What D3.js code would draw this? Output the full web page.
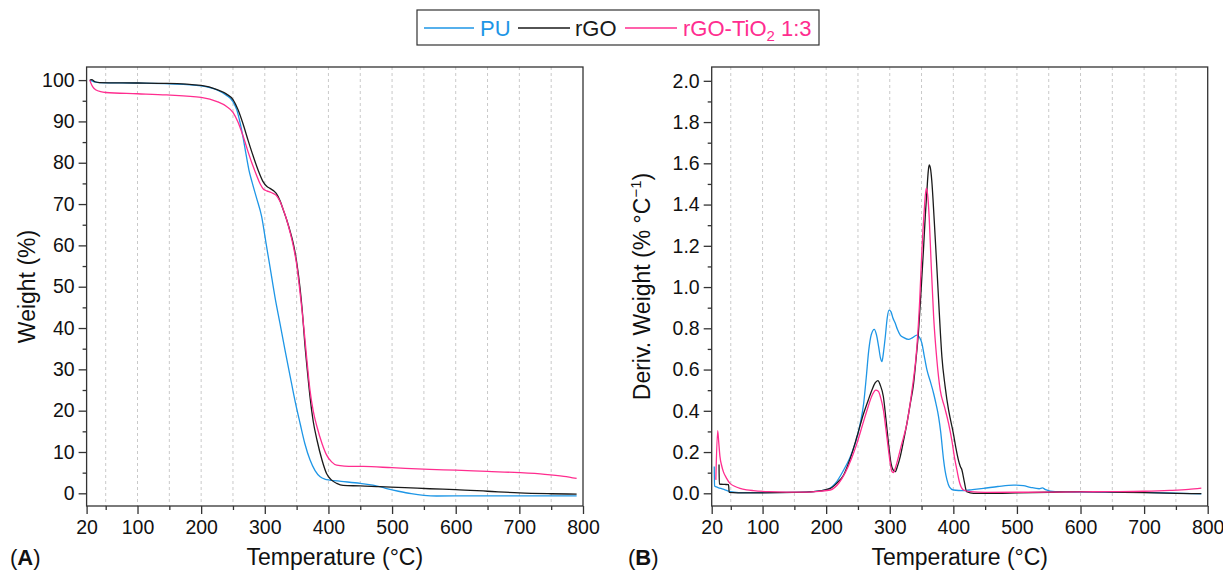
<!DOCTYPE html>
<html>
<head>
<meta charset="utf-8">
<script src="https://cdn.jsdelivr.net/npm/d3@7"></script>
<style>
  html, body { margin: 0; padding: 0; background: #fff; }
  svg { display: block; font-family: "Liberation Sans", Arial, Helvetica, sans-serif; }
</style>
</head>
<body>
<svg id="chart" width="1223" height="575"></svg>
<script>
// ---- Data: temperature (°C) vs weight (%) and derivative weight (% °C^-1) ----
const seriesNames = ["PU", "rGO", "rGO-TiO2 1:3"];
const seriesColors = ["#1e96e6", "#1a1a1a", "#ff2d8f"];

const xTicks = [20, 100, 200, 300, 400, 500, 600, 700, 800];
const xMinorTicks = [50, 150, 250, 350, 450, 550, 650, 750];
const gridTemps = [50, 100, 150, 200, 250, 300, 350, 400, 450, 500, 550, 600, 650, 700, 750];
const weightTicks = [0, 10, 20, 30, 40, 50, 60, 70, 80, 90, 100];
const weightMinorTicks = [5, 15, 25, 35, 45, 55, 65, 75, 85, 95];
const derivTicks = [0.0, 0.2, 0.4, 0.6, 0.8, 1.0, 1.2, 1.4, 1.6, 1.8, 2.0];
const derivMinorTicks = [0.1, 0.3, 0.5, 0.7, 0.9, 1.1, 1.3, 1.5, 1.7, 1.9];

// TGA curves [temperature, weight %]
const puWeight = [[25,100],[32,99.6],[40,99.4],[100,99.3],[150,99.1],[200,98.6],[225,97.6],[240,96.3],[250,94.8],[256,92.8],[261,89.8],[266,86],[270,82.5],[275,78.3],[280,75.3],[287,71.5],[295,67],[302,60.5],[308.5,54.5],[316,47.5],[324,41],[332,34.5],[340,28.2],[348,22],[355.5,16.9],[363,12],[371,8.1],[379,5.5],[387,4.0],[395,3.4],[402,3.2],[420,2.9],[450,2.4],[470,2.0],[490,1.2],[510,0.5],[530,-0.1],[550,-0.5],[570,-0.65],[650,-0.6],[790,-0.6]];
const rgoWeight = [[25,100],[28,100.1],[33,99.6],[40,99.4],[100,99.3],[146,99.2],[200,98.7],[225,97.7],[240,96.6],[250,95.3],[258,92.8],[266,89.3],[274,85.3],[282,81.5],[290,78],[297,75.5],[303,74.3],[308,73.8],[314,73.2],[318,72.6],[324,70.8],[329,68.6],[334,66.4],[340,63.3],[345,60.3],[350,56],[355.5,49.5],[359,44],[363,36],[367,29.5],[371,23.4],[376,17.5],[382,12.9],[390,8],[397,4.8],[405,3.2],[413,2.4],[423,1.9],[450,1.8],[481,1.6],[520,1.4],[559,1.1],[600,0.9],[650,0.5],[700,0.1],[750,-0.1],[790,-0.2]];
const tioWeight = [[25,100],[27,99.2],[30,98.3],[35,97.6],[42,97.2],[50,97.0],[100,96.7],[146,96.4],[200,95.8],[225,94.8],[240,93.6],[250,92.2],[258,89.8],[266,86.4],[273,83],[280,79.8],[287,77],[293,74.8],[298,73.6],[303,73.2],[310,72.8],[318,72.1],[324,70.6],[329,68.7],[334,66.4],[340,63],[345,59.7],[350,55.5],[354,50.5],[358,45],[362,39],[366,32.5],[371,25],[376,20],[382,16.1],[390,12],[397,9.3],[405,7.6],[413,6.8],[425,6.6],[455,6.5],[500,6.2],[559,5.8],[600,5.6],[650,5.3],[700,5.0],[740,4.6],[770,4.1],[790,3.6]];

// DTG curves [temperature, derivative weight]
const puDeriv = [[24,0.13],[24.5,0.035],[30,0.028],[38,0.02],[45,0.012],[55,0.006],[70,0.003],[100,0.003],[150,0.004],[180,0.008],[200,0.016],[215,0.05],[227,0.11],[237,0.17],[246,0.245],[253,0.33],[259,0.436],[263,0.56],[267,0.694],[271,0.77],[275.7,0.795],[279,0.77],[282.5,0.711],[285.5,0.655],[287.7,0.638],[290,0.68],[293,0.759],[296,0.85],[299,0.888],[302,0.88],[305,0.85],[308.7,0.824],[312,0.795],[316.5,0.767],[322,0.755],[329.6,0.746],[336,0.755],[342.7,0.767],[347,0.755],[350.6,0.727],[354,0.67],[358.5,0.598],[364,0.54],[369,0.484],[373,0.43],[376.8,0.371],[380,0.3],[384.7,0.161],[387,0.11],[390,0.065],[394,0.03],[400,0.016],[416,0.013],[430,0.018],[447.5,0.024],[470,0.033],[494.7,0.04],[510,0.037],[521,0.029],[535,0.022],[540,0.026],[545,0.018],[560,0.008],[600,0.006],[700,0.004],[790,-0.003]];
const rgoDeriv = [[31.5,0.14],[32,0.045],[40,0.043],[46.5,0.042],[47.5,0.004],[60,0.002],[100,0.002],[150,0.004],[180,0.008],[206.5,0.024],[217,0.05],[227.5,0.089],[238,0.17],[248.4,0.274],[259,0.388],[266,0.45],[272,0.501],[277,0.535],[281.4,0.546],[285,0.525],[290,0.468],[294,0.36],[298,0.242],[302,0.145],[305,0.115],[308.7,0.105],[312,0.13],[316.5,0.178],[322,0.26],[327,0.339],[332,0.43],[337.5,0.533],[341,0.64],[345,0.776],[349,0.97],[353,1.18],[356,1.35],[358.5,1.47],[360.5,1.56],[362,1.592],[364,1.575],[366,1.519],[370,1.32],[374,1.10],[378,0.87],[382,0.662],[387,0.52],[392.5,0.404],[396,0.35],[400,0.291],[404,0.22],[408,0.161],[411,0.13],[413.5,0.113],[417,0.06],[421,0.008],[432,0.0],[450,0.0],[500,0.002],[550,0.005],[600,0.008],[650,0.006],[700,0.003],[750,0.0],[790,-0.002]];
const tioDeriv = [[26.5,0.065],[29.4,0.304],[31,0.25],[33,0.178],[36,0.13],[38.3,0.105],[43,0.075],[48.8,0.048],[56,0.034],[64.5,0.024],[75,0.017],[85.5,0.013],[110,0.008],[138,0.006],[170,0.006],[190,0.01],[206.5,0.016],[220,0.05],[230,0.1],[240,0.17],[248.4,0.242],[258,0.34],[266,0.42],[273,0.48],[278,0.5],[282,0.495],[286,0.46],[290,0.404],[294,0.31],[298,0.21],[301,0.14],[303.5,0.105],[306,0.1],[308,0.115],[311,0.145],[318,0.23],[327,0.339],[335,0.5],[342.7,0.71],[347,0.93],[350.6,1.18],[354,1.36],[357.4,1.479],[359.5,1.45],[362,1.34],[365,1.12],[369,0.857],[374,0.65],[379.4,0.50],[386,0.42],[392.5,0.339],[398,0.25],[402,0.17],[405.6,0.113],[410,0.05],[416,0.016],[426.6,0.008],[450,0.004],[500,0.005],[550,0.006],[600,0.007],[650,0.008],[700,0.01],[740,0.014],[770,0.019],[790,0.025]];

// ---- Layout ----
const svg = d3.select("#chart");
const frameColor = "#333";
const panelTop = 67, panelBottom = 506;
const tickFont = 19.5, titleFont = 23;

function drawPanel(opts) {
  const x = d3.scaleLinear().domain([20, 800]).range([opts.left, opts.right]);
  const y = d3.scaleLinear().domain(opts.yDomain).range([panelBottom, panelTop]);
  const g = svg.append("g");

  // dashed vertical grid
  g.append("g").selectAll("line").data(gridTemps).join("line")
    .attr("x1", d => x(d)).attr("x2", d => x(d))
    .attr("y1", panelTop).attr("y2", panelBottom)
    .attr("stroke", "#c9c9c9").attr("stroke-width", 1).attr("stroke-dasharray", "3,3");

  // curves
  const line = d3.line().x(d => x(d[0])).y(d => y(d[1])).curve(d3.curveMonotoneX);
  opts.series.forEach((s, i) => {
    g.append("path").datum(s).attr("d", line)
      .attr("fill", "none").attr("stroke", seriesColors[i]).attr("stroke-width", 1.3);
  });

  // frame
  g.append("rect").attr("x", opts.left).attr("y", panelTop)
    .attr("width", opts.right - opts.left).attr("height", panelBottom - panelTop)
    .attr("fill", "none").attr("stroke", frameColor).attr("stroke-width", 1.3);

  // x axis: major + minor ticks
  const xAxis = g.append("g").attr("transform", `translate(0,${panelBottom})`)
    .call(d3.axisBottom(x).tickValues(xTicks).tickSize(8).tickSizeOuter(0).tickPadding(6).tickFormat(d3.format("d")));
  const xMinor = g.append("g").attr("transform", `translate(0,${panelBottom})`)
    .call(d3.axisBottom(x).tickValues(xMinorTicks).tickSize(4).tickSizeOuter(0).tickFormat(""));

  // y axis: major + minor ticks
  const yAxis = g.append("g").attr("transform", `translate(${opts.left},0)`)
    .call(d3.axisLeft(y).tickValues(opts.yTicks).tickSize(8).tickSizeOuter(0).tickPadding(4).tickFormat(opts.yFormat));
  const yMinor = g.append("g").attr("transform", `translate(${opts.left},0)`)
    .call(d3.axisLeft(y).tickValues(opts.yMinor).tickSize(4).tickSizeOuter(0).tickFormat(""));

  [xAxis, xMinor, yAxis, yMinor].forEach(a => {
    a.select(".domain").remove();
    a.selectAll(".tick line").attr("stroke", frameColor).attr("stroke-width", 1.3);
    a.selectAll("text").attr("font-size", tickFont).attr("fill", "#111")
      .attr("font-family", '"Liberation Sans", Arial, sans-serif');
  });

  // x title
  g.append("text").attr("x", (opts.left + opts.right) / 2).attr("y", 565)
    .attr("text-anchor", "middle").attr("font-size", titleFont).attr("fill", "#111")
    .text("Temperature (°C)");

  // panel letter
  const lab = g.append("text").attr("x", opts.letterX).attr("y", 565)
    .attr("font-size", 22).attr("fill", "#111");
  lab.append("tspan").text("(");
  lab.append("tspan").attr("font-weight", "bold").text(opts.letter);
  lab.append("tspan").text(")");

  return { g, x, y };
}

// Panel A: weight
const pA = drawPanel({
  left: 86.6, right: 583, yDomain: [-3.07, 103.17],
  yTicks: weightTicks, yMinor: weightMinorTicks, yFormat: d3.format("d"),
  series: [puWeight, rgoWeight, tioWeight], letter: "A", letterX: 10
});
pA.g.append("text").attr("transform", `translate(35,${(panelTop + panelBottom) / 2}) rotate(-90)`)
  .attr("text-anchor", "middle").attr("font-size", titleFont).attr("fill", "#111")
  .text("Weight (%)");

// Panel B: derivative weight
const pB = drawPanel({
  left: 711.7, right: 1207.7, yDomain: [-0.0616, 2.067],
  yTicks: derivTicks, yMinor: derivMinorTicks, yFormat: d3.format(".1f"),
  series: [puDeriv, rgoDeriv, tioDeriv], letter: "B", letterX: 628
});
const yt = pB.g.append("text").attr("transform", `translate(650,${(panelTop + panelBottom) / 2}) rotate(-90)`)
  .attr("text-anchor", "middle").attr("font-size", titleFont).attr("fill", "#111");
yt.append("tspan").text("Deriv. Weight (% °C");
yt.append("tspan").attr("font-size", 15).attr("dy", -9).text("−1");
yt.append("tspan").attr("dy", 9).text(")");

// ---- Legend ----
const legend = svg.append("g");
legend.append("rect").attr("x", 417).attr("y", 10).attr("width", 402).attr("height", 35)
  .attr("fill", "#fff").attr("stroke", frameColor).attr("stroke-width", 1.2);
const legendItems = [
  { x1: 424, x2: 474, tx: 480 },
  { x1: 518, x2: 570, tx: 575 },
  { x1: 625, x2: 677, tx: 683 }
];
legendItems.forEach((it, i) => {
  legend.append("line").attr("x1", it.x1).attr("x2", it.x2).attr("y1", 28).attr("y2", 28)
    .attr("stroke", seriesColors[i]).attr("stroke-width", 1.3);
  const t = legend.append("text").attr("x", it.tx).attr("y", 36)
    .attr("font-size", 22).attr("fill", seriesColors[i]);
  if (i === 2) {
    t.append("tspan").text("rGO-TiO");
    t.append("tspan").attr("font-size", 15).attr("dy", 5).text("2");
    t.append("tspan").attr("dy", -5).text(" 1:3");
  } else {
    t.text(seriesNames[i]);
  }
});
</script>
</body>
</html>
